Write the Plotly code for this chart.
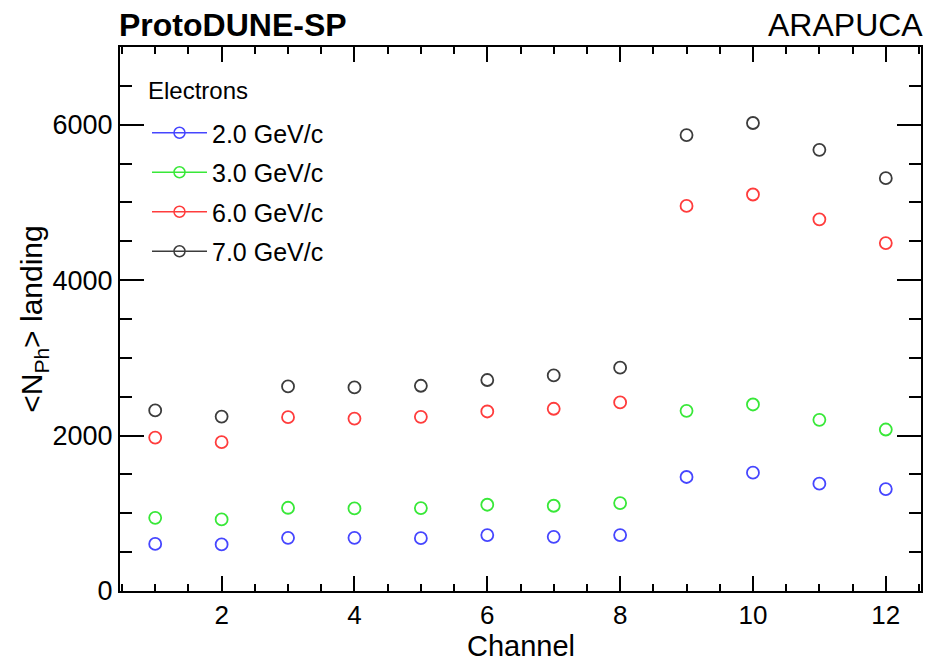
import plotly.graph_objects as go

channels = [1, 2, 3, 4, 5, 6, 7, 8, 9, 10, 11, 12]
e2_gev = [606, 599, 684, 684, 680, 719, 697, 719, 1467, 1523, 1381, 1312]
e3_gev = [942, 921, 1071, 1063, 1067, 1110, 1097, 1132, 2319, 2400, 2203, 2078]
e6_gev = [1974, 1915, 2237, 2219, 2241, 2310, 2345, 2426, 4955, 5102, 4783, 4477]
e7_gev = [2323, 2245, 2632, 2619, 2641, 2715, 2774, 2874, 5867, 6022, 5677, 5312]

series_names = ["2.0 GeV/c", "3.0 GeV/c", "6.0 GeV/c", "7.0 GeV/c"]
series_values = [e2_gev, e3_gev, e6_gev, e7_gev]
series_colors = ["#4646ff", "#38e838", "#ff3c3c", "#3c3c3c"]

FONT = "Liberation Sans, Arial, Helvetica, sans-serif"

fig = go.Figure()
for name, vals, col in zip(series_names, series_values, series_colors):
    fig.add_trace(go.Scatter(
        x=channels, y=vals, mode="markers", name=name, showlegend=False,
        marker=dict(symbol="circle-open", size=12, color=col, line=dict(width=1.8, color=col)),
    ))
    # legend entry (line + marker, as in the reference)
    fig.add_trace(go.Scatter(
        x=[None], y=[None], mode="lines+markers", name=name, legendgroup=name,
        line=dict(color=col, width=1.5),
        marker=dict(symbol="circle-open", size=11, color=col, line=dict(width=1.5, color=col)),
    ))

axis_common = dict(
    showline=True, linewidth=2, linecolor="black", mirror="ticks",
    ticks="inside", tickcolor="black", tickwidth=1.5,
    showgrid=False, zeroline=False,
)

fig.update_xaxes(
    **axis_common,
    range=[0.47, 12.53], tick0=0, dtick=2, ticklen=15,
    ticklabelstandoff=0,
    tickfont=dict(family=FONT, size=26, color="black"),
    minor=dict(dtick=0.5, tick0=0, ticks="inside", ticklen=7, tickwidth=1.5, tickcolor="black", showgrid=False),
)
fig.update_yaxes(
    **axis_common,
    range=[0, 7000], tick0=0, dtick=2000, ticklen=24,
    ticklabelstandoff=0,
    tickfont=dict(family=FONT, size=27, color="black"),
    minor=dict(dtick=500, tick0=0, ticks="inside", ticklen=12, tickwidth=1.5, tickcolor="black", showgrid=False),
    title=dict(text="&lt;N<sub>Ph</sub>&gt; landing", font=dict(family=FONT, size=30, color="black"), standoff=0),
)

fig.update_layout(
    width=927, height=662,
    margin=dict(l=120, r=6, t=47, b=71, autoexpand=False),
    paper_bgcolor="white", plot_bgcolor="white",
    font=dict(family=FONT, color="black"),
    legend=dict(
        x=(147 - 120) / 801, y=(591 - 110) / 544, xanchor="left", yanchor="top",
        bgcolor="rgba(0,0,0,0)", borderwidth=0,
        font=dict(family=FONT, size=25, color="black"),
        itemwidth=55, tracegroupgap=4,
    ),
    annotations=[
        dict(text="<b>ProtoDUNE-SP</b>", xref="paper", yref="paper", x=0, y=1,
             xanchor="left", yanchor="bottom", yshift=2, xshift=-3, showarrow=False,
             font=dict(family=FONT, size=32, color="black")),
        dict(text="ARAPUCA", xref="paper", yref="paper", x=1, y=1,
             xanchor="right", yanchor="bottom", yshift=2, xshift=4, showarrow=False,
             font=dict(family=FONT, size=32, color="black")),
        dict(text="Electrons", xref="paper", yref="paper", x=(146 - 120) / 801, y=(591 - 90) / 544,
             xanchor="left", yanchor="middle", showarrow=False,
             font=dict(family=FONT, size=24, color="black")),
        dict(text="Channel", xref="paper", yref="paper", x=0.5, y=(591 - 646) / 544,
             xanchor="center", yanchor="middle", showarrow=False, borderpad=0,
             font=dict(family=FONT, size=29, color="black")),
    ],
)

fig.write_html("out.html")
